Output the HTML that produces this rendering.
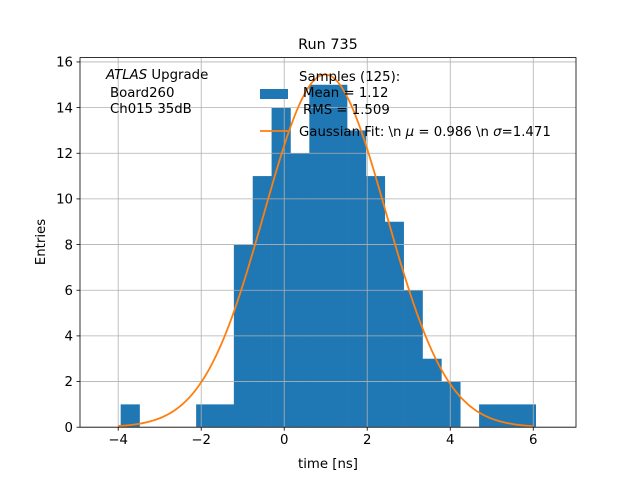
<!DOCTYPE html>
<html><head><meta charset="utf-8"><style>
body{margin:0;background:#fff}
svg text{font-family:"DejaVu Sans","Liberation Sans",sans-serif;fill:#000;white-space:pre}
</style></head><body>
<svg id="c" width="640" height="480" xmlns="http://www.w3.org/2000/svg">
<rect width="640" height="480" fill="#fff"/>
<g id="bars"></g><g id="grid"></g><path id="fit" fill="none" stroke="#ff7f0e" stroke-width="1.8"/>
<rect x="80" y="57.6" width="496" height="369.6" fill="none" stroke="#000" stroke-width="0.8"/>
<g id="ticks"></g>
<text x="328" y="49" font-size="14.4" text-anchor="middle">Run 735</text>
<text x="328" y="468" font-size="13.3" text-anchor="middle">time [ns]</text>
<text transform="translate(45,242) rotate(-90)" font-size="13.3" text-anchor="middle">Entries</text>
<g font-size="13.3">
<text x="106" y="79"><tspan font-style="italic">ATLAS</tspan> Upgrade</text>
<text x="110" y="97">Board260</text>
<text x="110" y="113">Ch015 35dB</text>
</g>
<g font-size="13.3">
<rect x="260" y="89" width="28" height="10" fill="#1f77b4"/>
<text x="299" y="81">Samples (125):</text>
<text x="303" y="97">Mean = 1.12</text>
<text x="303" y="114">RMS = 1.509</text>
<line x1="260" y1="131" x2="288" y2="131" stroke="#ff7f0e" stroke-width="1.8"/>
<text x="299" y="136">Gaussian Fit: \n <tspan font-style="italic">μ</tspan> = 0.986 \n <tspan font-style="italic">σ</tspan>=1.471</text>
</g>
</svg>
<script>
const binStart = -3.94;
const binWidth = 0.4545;
const counts = [1,0,0,0,1,1,8,11,14,12,15,15,13,11,9,6,3,2,0,1,1,1];
const fitMu = 0.986, fitSigma = 1.471, fitAmp = 15.45;
const xTicks = [-4,-2,0,2,4,6];
const yTicks = [0,2,4,6,8,10,12,14,16];
const NS="http://www.w3.org/2000/svg";
const X0=80,X1=576,Y0=427.2,Y1=57.6,xmin=-4.92,xmax=7.03,ymin=0,ymax=16.19;
const sx=v=>X0+(v-xmin)/(xmax-xmin)*(X1-X0);
const sy=v=>Y0-(v-ymin)/(ymax-ymin)*(Y0-Y1);
function mk(t,a,p){const e=document.createElementNS(NS,t);for(const k in a)e.setAttribute(k,a[k]);p.appendChild(e);return e;}
const grid=document.getElementById('grid'),ticks=document.getElementById('ticks'),bars=document.getElementById('bars');
xTicks.forEach(v=>{const x=sx(v);
 const g=mk('line',{x1:x,x2:x,y1:Y1,y2:Y0,stroke:'#b0b0b0','stroke-width':0.8},grid);
 
 const t=mk('line',{x1:x,x2:x,y1:Y0,y2:Y0+3.5,stroke:'#000','stroke-width':0.8},ticks);
 
 const l=mk('text',{x:x,y:Y0+17,'font-size':13.3,'text-anchor':'middle'},ticks);l.textContent=(v<0?'−'+(-v):v);
 });
yTicks.forEach(v=>{const y=sy(v);
 const g=mk('line',{x1:X0,x2:X1,y1:y,y2:y,stroke:'#b0b0b0','stroke-width':0.8},grid);
 
 const t=mk('line',{x1:X0-3.5,x2:X0,y1:y,y2:y,stroke:'#000','stroke-width':0.8},ticks);
 
 const l=mk('text',{x:X0-7,y:y+4.7,'font-size':13.3,'text-anchor':'end'},ticks);l.textContent=v;
 });
counts.forEach((c,i)=>{if(!c)return;const a=binStart+i*binWidth,b=a+binWidth;
 const r=mk('rect',{x:sx(a),y:sy(c),width:sx(b)-sx(a)+0.3,height:sy(0)-sy(c),fill:'#1f77b4'},bars);
 });
let d='';for(let i=0;i<=200;i++){const v=-4+10*i/200;const f=fitAmp*Math.exp(-0.5*((v-fitMu)/fitSigma)**2);d+=(i?'L':'M')+sx(v).toFixed(2)+','+sy(f).toFixed(2);}
document.getElementById('fit').setAttribute('d',d);
</script>
</body></html>
